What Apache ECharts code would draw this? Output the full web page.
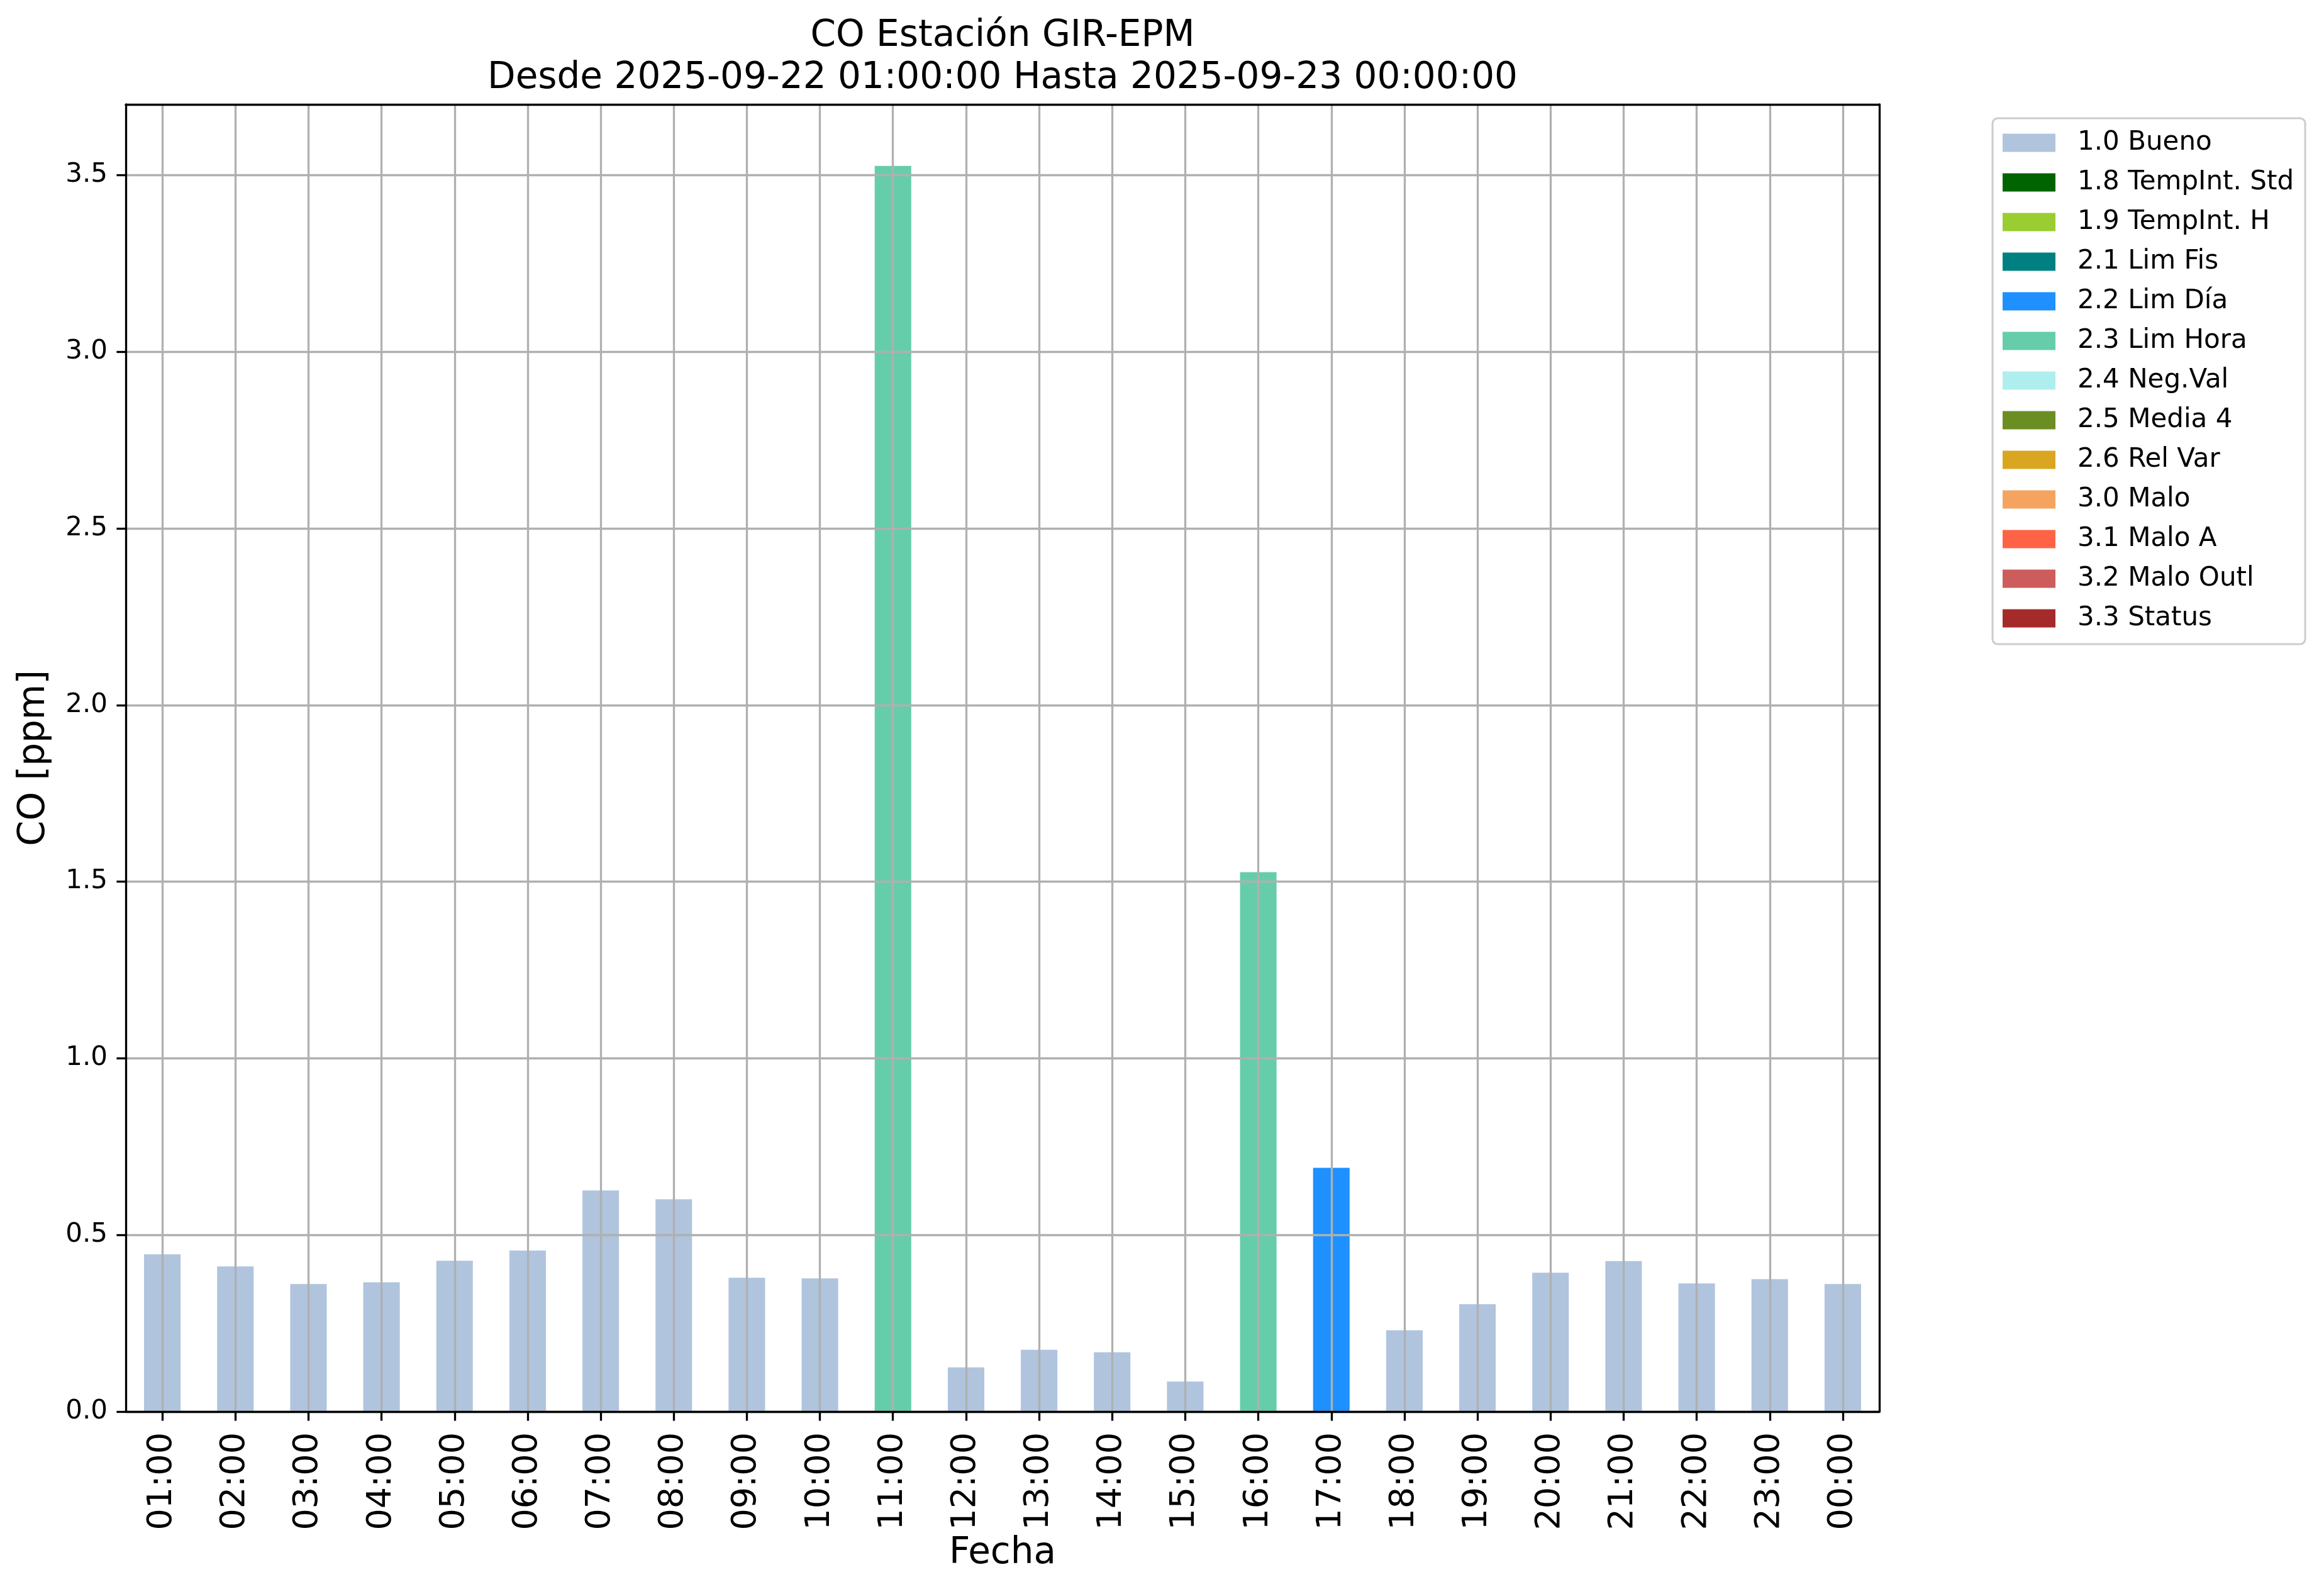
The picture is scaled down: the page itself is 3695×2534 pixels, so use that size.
<!DOCTYPE html>
<html>
<head>
<meta charset="utf-8">
<script src="https://cdn.jsdelivr.net/npm/echarts@6/dist/echarts.min.js"></script>
<style>
  html, body { margin: 0; padding: 0; background: #ffffff; }
  #chart { width: 3695px; height: 2534px; }
</style>
</head>
<body>
<div id="chart"></div>
<script>
// ---- Data ----
const hours = ["01:00","02:00","03:00","04:00","05:00","06:00","07:00","08:00","09:00","10:00","11:00","12:00",
               "13:00","14:00","15:00","16:00","17:00","18:00","19:00","20:00","21:00","22:00","23:00","00:00"];
const coValues = [0.445, 0.411, 0.361, 0.366, 0.427, 0.456, 0.626, 0.601, 0.379, 0.377, 3.526, 0.125,
                  0.175, 0.168, 0.085, 1.527, 0.690, 0.230, 0.304, 0.393, 0.426, 0.363, 0.375, 0.361];
const hourFlags = ["1.0 Bueno","1.0 Bueno","1.0 Bueno","1.0 Bueno","1.0 Bueno","1.0 Bueno","1.0 Bueno","1.0 Bueno",
                   "1.0 Bueno","1.0 Bueno","2.3 Lim Hora","1.0 Bueno","1.0 Bueno","1.0 Bueno","1.0 Bueno","2.3 Lim Hora",
                   "2.2 Lim Día","1.0 Bueno","1.0 Bueno","1.0 Bueno","1.0 Bueno","1.0 Bueno","1.0 Bueno","1.0 Bueno"];
const flagNames = ["1.0 Bueno","1.8 TempInt. Std","1.9 TempInt. H","2.1 Lim Fis","2.2 Lim Día","2.3 Lim Hora",
                   "2.4 Neg.Val","2.5 Media 4","2.6 Rel Var","3.0 Malo","3.1 Malo A","3.2 Malo Outl","3.3 Status"];
const flagColors = ["#B0C4DE","#006400","#9ACD32","#008080","#1E90FF","#66CDAA",
                    "#AFEEEE","#6B8E23","#DAA520","#F4A460","#FF6347","#CD5C5C","#A52A2A"];
const yTicks = [0, 0.5, 1.0, 1.5, 2.0, 2.5, 3.0, 3.5];
const titleText = "CO Estación GIR-EPM\nDesde 2025-09-22 01:00:00 Hasta 2025-09-23 00:00:00";

// ---- Chart ----
const FONT = "DejaVu Sans";
const LW = 3.3;
const chart = echarts.init(document.getElementById('chart'), null, { renderer: 'canvas' });

const series = flagNames.map((name, k) => ({
  name: name,
  type: 'bar',
  stack: 'total',
  barWidth: '50%',
  itemStyle: { color: flagColors[k] },
  data: coValues.map((v, i) => hourFlags[i] === name ? v : null),
  z: 2
}));

const option = {
  animation: false,
  backgroundColor: '#ffffff',
  title: {
    text: titleText,
    left: 1594,
    top: 24,
    textAlign: 'center',
    padding: 0,
    textStyle: { fontFamily: FONT, fontSize: 58, fontWeight: 'normal', color: '#000', lineHeight: 67 }
  },
  legend: {
    orient: 'vertical',
    left: 3168,
    top: 188,
    selectedMode: false,
    icon: 'rect',
    itemWidth: 84,
    itemHeight: 29,
    itemGap: 21,
    padding: [18, 18, 20, 16],
    borderColor: '#cccccc',
    borderWidth: 3,
    borderRadius: 8,
    backgroundColor: '#ffffff',
    data: flagNames,
    textStyle: { fontFamily: FONT, fontSize: 42, color: '#000', lineHeight: 30, padding: [0, 0, 0, 30] }
  },
  grid: { left: 200, right: 707, top: 166, bottom: 290, containLabel: false },
  xAxis: [
    {
      type: 'category',
      data: hours,
      position: 'bottom',
      z: 3,
      axisLine: { show: true, onZero: false, lineStyle: { color: '#000', width: LW } },
      axisTick: { show: true, alignWithLabel: true, length: 14.6, lineStyle: { color: '#000', width: LW } },
      axisLabel: { rotate: 90, margin: 33, fontFamily: FONT, fontSize: 54, color: '#000', interval: 0 },
      splitLine: { show: true, alignWithLabel: true, interval: 0, lineStyle: { color: '#b0b0b0', width: LW } },
      name: 'Fecha',
      nameLocation: 'middle',
      nameGap: 196,
      nameTextStyle: { fontFamily: FONT, fontSize: 58, color: '#000' }
    },
    {
      type: 'category',
      data: hours,
      position: 'top',
      z: 5,
      axisLine: { show: true, onZero: false, lineStyle: { color: '#000', width: LW } },
      axisTick: { show: false },
      axisLabel: { show: false },
      splitLine: { show: false }
    }
  ],
  yAxis: [
    {
      type: 'value',
      min: 0,
      max: 3.7,
      interval: 0.5,
      position: 'left',
      z: 3,
      axisLine: { show: true, onZero: false, lineStyle: { color: '#000', width: LW } },
      axisTick: { show: true, length: 14.6, customValues: yTicks, lineStyle: { color: '#000', width: LW } },
      axisLabel: {
        margin: 29, fontFamily: FONT, fontSize: 42, color: '#000',
        customValues: yTicks,
        formatter: v => Number(v).toFixed(1)
      },
      splitLine: { show: true, lineStyle: { color: '#b0b0b0', width: LW } },
      name: 'CO [ppm]',
      nameLocation: 'middle',
      nameGap: 116,
      nameRotate: 90,
      nameTextStyle: { fontFamily: FONT, fontSize: 58, color: '#000' }
    },
    {
      type: 'value',
      min: 0,
      max: 3.7,
      position: 'right',
      z: 5,
      axisLine: { show: true, onZero: false, lineStyle: { color: '#000', width: LW } },
      axisTick: { show: false },
      axisLabel: { show: false },
      splitLine: { show: false }
    }
  ],
  series: series
};

chart.setOption(option);
</script>
</body>
</html>
